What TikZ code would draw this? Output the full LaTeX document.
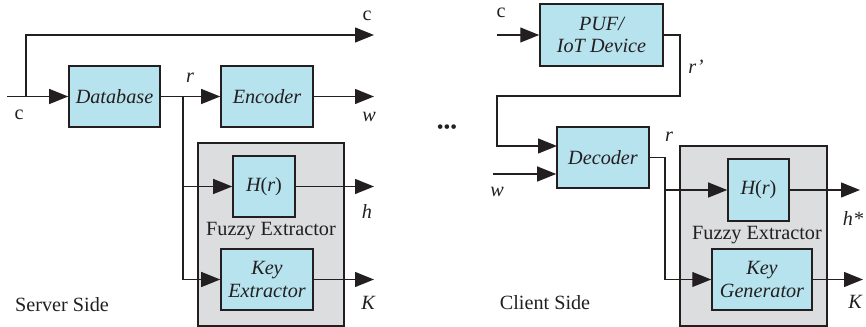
\documentclass[tikz,border=0pt]{standalone}
\usepackage{fontspec}
\setmainfont{Liberation Serif}
\usetikzlibrary{arrows.meta,calc}
\definecolor{boxblue}{HTML}{B7E3EE}
\definecolor{zonegray}{HTML}{DCDDDF}
\definecolor{ink}{HTML}{231F20}
\tikzset{
  every node/.style={font=\fontsize{11.5}{13}\selectfont, text=ink},
  blk/.style={
    draw=ink, line width=0.9pt, fill=boxblue,
    align=center, inner sep=2pt, font=\fontsize{11.5}{13}\selectfont\itshape
  },
  zone/.style={draw=ink, line width=0.9pt, fill=zonegray},
  arr/.style={-{Triangle[length=10.8pt,width=8.5pt]}, line width=0.8pt, draw=ink},
  wire/.style={line width=0.8pt, draw=ink},
  lbl/.style={font=\fontsize{11.5}{13}\selectfont\itshape, inner sep=0pt}
}
\begin{document}
\begin{tikzpicture}[x=0.02cm, y=-0.02cm]
\useasboundingbox (0,0) rectangle (866,327);

% server side
\node[blk, minimum width=1.82cm, minimum height=1.22cm] (db) at (114.5,96.5) {Database};
\node[blk, minimum width=1.84cm, minimum height=1.22cm] (enc) at (267,96.5) {Encoder};
\node[zone, minimum width=2.92cm, minimum height=3.66cm] (fzL) at (271,234.5) {};
\node[blk, minimum width=1.24cm, minimum height=1.22cm] (hrL) at (264,186.5) {\itshape H\upshape(\itshape r\upshape)};
\node[blk, minimum width=1.84cm, minimum height=1.22cm] (keyext) at (267,279.5) {Key\\Extractor};
\node[inner sep=0pt] (fzLtxt) at (271,231) {Fuzzy Extractor};

\coordinate (cin) at (7,96.5);
\coordinate (cj) at (26,96.5);
\coordinate (cout) at (374,35);
\coordinate (rL) at (183,96.5);
\coordinate (wout) at (374,96.5);
\coordinate (hout) at (374,186.5);
\coordinate (kout) at (374,279.5);

\draw[arr] (cin) -- (db.west);
\draw[arr] (cj) |- (cout);
\draw[arr] (db.east) -- (enc.west);
\draw[arr] (enc.east) -- (wout);
\draw[arr] (rL) |- (hrL.west);
\draw[arr] (rL) |- (keyext.west);
\draw[arr] (hrL.east) -- (hout);
\draw[arr] (keyext.east) -- (kout);

\node[inner sep=0pt] at (367,16) {c};
\node[inner sep=0pt] at (19,115) {c};
\node[lbl] at (190,78) {r};
\node[lbl] at (369,117) {w};
\node[lbl] at (367,211) {h};
\node[lbl] at (368,303) {K};
\node[inner sep=0pt] (srv) at (62,305) {Server Side};

\node[inner sep=0pt, font=\fontsize{11}{12}\selectfont] (dots) at (447,129) {•••};

% client side
\node[blk, minimum width=2.46cm, minimum height=1.24cm] (puf) at (601.5,35) {PUF/\\IoT Device};
\node[blk, minimum width=1.84cm, minimum height=1.22cm] (dec) at (603,157.5) {Decoder};
\node[zone, minimum width=2.94cm, minimum height=3.6cm] (fzR) at (753.5,236) {};
\node[blk, minimum width=1.22cm, minimum height=1.24cm] (hrR) at (758.5,190) {\itshape H\upshape(\itshape r\upshape)};
\node[blk, minimum width=2.0cm, minimum height=1.22cm] (keygen) at (762,279.5) {Key\\Generator};
\node[inner sep=0pt] (fzRtxt) at (757,235) {Fuzzy Extractor};

\coordinate (cinR) at (497,35);
\coordinate (rp1) at (680,96);
\coordinate (rp2) at (497,96);
\coordinate (decin) at (557,146);
\coordinate (winR) at (493,174);
\coordinate (rR) at (665,157.5);
\coordinate (hsout) at (860,190);
\coordinate (koutR) at (863,279.5);

\draw[arr] (cinR) -- (puf.west);
\draw[arr] (puf.east) -| (rp1) -- (rp2) |- (decin);
\draw[arr] (winR) -- (dec.west |- winR);
\draw[wire] (dec.east) -- (rR);
\draw[arr] (rR) |- (hrR.west);
\draw[arr] (rR) |- (keygen.west);
\draw[arr] (hrR.east) -- (hsout);
\draw[arr] (keygen.east) -- (koutR);

\node[inner sep=0pt] at (501,13) {c};
\node[lbl] at (696,67) {r’};
\node[lbl] at (669,137) {r};
\node[lbl] at (497,192) {w};
\node[lbl] at (853,218) {h*};
\node[lbl] at (855,302) {K};
\node[inner sep=0pt] (cli) at (545,303) {Client Side};
\end{tikzpicture}
\end{document}
